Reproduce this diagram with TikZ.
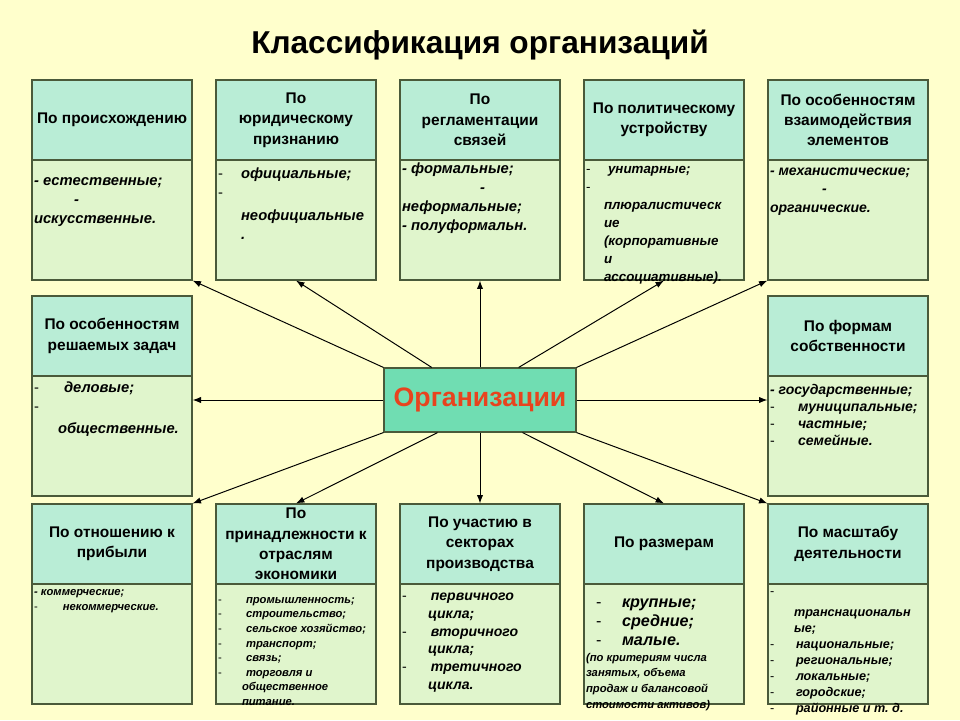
\documentclass[tikz,border=0pt]{standalone}
\usepackage{fontspec}
\setmainfont{Liberation Sans}
\usetikzlibrary{arrows.meta,calc}

\definecolor{bgc}{HTML}{FFFFCC}
\definecolor{headc}{HTML}{B9EDD6}
\definecolor{bodyc}{HTML}{E0F5CC}
\definecolor{orgc}{HTML}{70DDB2}
\definecolor{orgtxt}{HTML}{E8431E}
\definecolor{bord}{HTML}{4A5A3A}

\newcommand{\dsh}[1][0.7cm]{\makebox[#1][l]{\upshape\mdseries -}}
\newcommand{\cell}[1]{\parbox[c][2.9cm][t]{3.9cm}{\raggedright #1}}

\begin{document}
\begin{tikzpicture}
  [head/.style={draw=bord,fill=headc,line width=0.8pt,minimum width=4cm,minimum height=2cm,
     align=center,inner sep=1pt,font=\fontsize{11}{14.5}\selectfont\bfseries},
   body/.style={draw=bord,fill=bodyc,line width=0.8pt,inner sep=0.05cm,
     font=\fontsize{10.5}{13.5}\selectfont\bfseries\itshape},
   org/.style={draw=bord,fill=orgc,line width=0.8pt,minimum width=4.8cm,minimum height=1.6cm,
     text=orgtxt,font=\fontsize{19}{22}\selectfont\bfseries},
   arr/.style={-{Latex[length=6pt,width=4.5pt]},line width=0.7pt}]
  \useasboundingbox (0,0) rectangle (24,18);
  \fill[bgc] (0,0) rectangle (24,18);
  \node (title) at (12,16.88) {\fontsize{22.5}{26}\selectfont\bfseries Классификация организаций};
  \node[org] (org) at (12,8) {Организации};
  % top row
  \node[head] (h1) at (2.8,15) {По происхождению};
  \node[body] (b1) at (2.8,12.5) {\cell{\vspace*{0.4cm}- естественные;\\ \hspace*{1cm}-\\ искусственные.}};
  \node[head] (h2) at (7.4,15) {По\\юридическому\\признанию};
  \node[body] (b2) at (7.4,12.5) {\cell{\vspace*{0.15cm}\dsh[0.575cm]официальные;\\ \dsh\\[3pt] \hspace*{0.575cm}неофициальные\\ \hspace*{0.575cm}.}};
  \node[head] (h3) at (12,15) {По\\регламентации\\связей};
  \node[body] (b3) at (12,12.5) {\cell{\vspace*{0.03cm}- формальные;\\ \hspace*{1.95cm}-\\ неформальные;\\ - полуформальн.}};
  \node[head] (h4) at (16.6,15) {По политическому\\устройству};
  \node[body] (b4) at (16.6,12.5) {\cell{\vspace*{0.12cm}\fontsize{9.5}{12.8}\selectfont\dsh[0.55cm]унитарные;\\ \dsh\\ \hspace*{0.45cm}плюралистическ\\ \hspace*{0.45cm}ие\\ \hspace*{0.45cm}(корпоративные\\ \hspace*{0.45cm}и\\ \hspace*{0.45cm}ассоциативные).}};
  \node[head] (h5) at (21.2,15) {По особенностям\\взаимодействия\\элементов};
  \node[body] (b5) at (21.2,12.5) {\cell{\vspace*{0.15cm}\fontsize{10}{13}\selectfont- механистические;\\ \hspace*{1.3cm}-\\ органические.}};
  % middle row
  \node[head] (h6) at (2.8,9.6) {По особенностям\\решаемых задач};
  \node[body] (b6) at (2.8,7.1) {\cell{\vspace*{0.1cm}\dsh[0.75cm]деловые;\\ \dsh\\[2pt] \hspace*{0.6cm}общественные.}};
  \node[head] (h7) at (21.2,9.6) {По формам\\собственности};
  \node[body] (b7) at (21.2,7.1) {\cell{\vspace*{0.15cm}\fontsize{10}{12.2}\selectfont- государственные;\\ \dsh[0.7cm]муниципальные;\\ \dsh[0.7cm]частные;\\ \dsh[0.7cm]семейные.}};
  % bottom row
  \node[head] (h8) at (2.8,4.4) {По отношению к\\прибыли};
  \node[body] (b8) at (2.8,1.9) {\cell{\vspace*{0.08cm}\fontsize{8}{10.5}\selectfont- коммерческие;\\ \dsh[0.72cm]некоммерческие.}};
  \node[head] (h9) at (7.4,4.4) {По\\принадлежности к\\отраслям\\экономики};
  \node[body] (b9) at (7.4,1.9) {\cell{\vspace*{0.28cm}\fontsize{8}{10.4}\selectfont\dsh[0.7cm]промышленность;\\ \dsh[0.7cm]строительство;\\ \dsh[0.7cm]сельское хозяйство;\\ \dsh[0.7cm]транспорт;\\ \dsh[0.7cm]связь;\\ \dsh[0.7cm]торговля и\\ \hspace*{0.6cm}общественное\\ \hspace*{0.6cm}питание.}};
  \node[head] (h10) at (12,4.4) {По участию в\\секторах\\производства};
  \node[body] (b10) at (12,1.9) {\cell{\vspace*{0.18cm}\fontsize{10}{12.6}\selectfont\dsh[0.72cm]первичного\\ \hspace*{0.65cm}цикла;\\ \dsh[0.72cm]вторичного\\ \hspace*{0.65cm}цикла;\\ \dsh[0.72cm]третичного\\ \hspace*{0.65cm}цикла.}};
  \node[head] (h11) at (16.6,4.4) {По размерам};
  \node[body] (b11) at (16.6,1.9) {\cell{\vspace*{0.32cm}\fontsize{11.5}{13.5}\selectfont\hspace*{0.25cm}\dsh[0.65cm]крупные;\\ \hspace*{0.25cm}\dsh[0.65cm]средние;\\ \hspace*{0.25cm}\dsh[0.65cm]малые.\par
    \fontsize{8}{11.2}\selectfont(по критериям числа\\ занятых, объема\\ продаж и балансовой\\ стоимости активов)}};
  \node[head] (h12) at (21.2,4.4) {По масштабу\\деятельности};
  \node[body] (b12) at (21.2,1.9) {\cell{\vspace*{0.15cm}\fontsize{9}{11.4}\selectfont\dsh\\[3pt] \hspace*{0.6cm}транснациональн\\ \hspace*{0.6cm}ые;\\ \dsh[0.65cm]национальные;\\ \dsh[0.65cm]региональные;\\ \dsh[0.65cm]локальные;\\ \dsh[0.65cm]городские;\\ \dsh[0.65cm]районные и т.~д.}};
  % arrows
  \coordinate (o2) at ($(org.north west)!.25!(org.north east)$);
  \coordinate (o4) at ($(org.north west)!.7!(org.north east)$);
  \coordinate (o9) at ($(org.south west)!.28!(org.south east)$);
  \coordinate (o11) at ($(org.south west)!.72!(org.south east)$);
  \coordinate (e6) at (org.west -| b6.east);
  \coordinate (e7) at (org.east -| b7.west);
  \foreach \from/\to in {org.north west/b1.south east, o2/b2.south, org.north/b3.south,
    o4/b4.south, org.north east/b5.south west, org.west/e6, org.east/e7,
    org.south west/h8.north east, o9/h9.north, org.south/h10.north,
    o11/h11.north, org.south east/h12.north west}
    \draw[arr] (\from) -- (\to);
\end{tikzpicture}
\end{document}
